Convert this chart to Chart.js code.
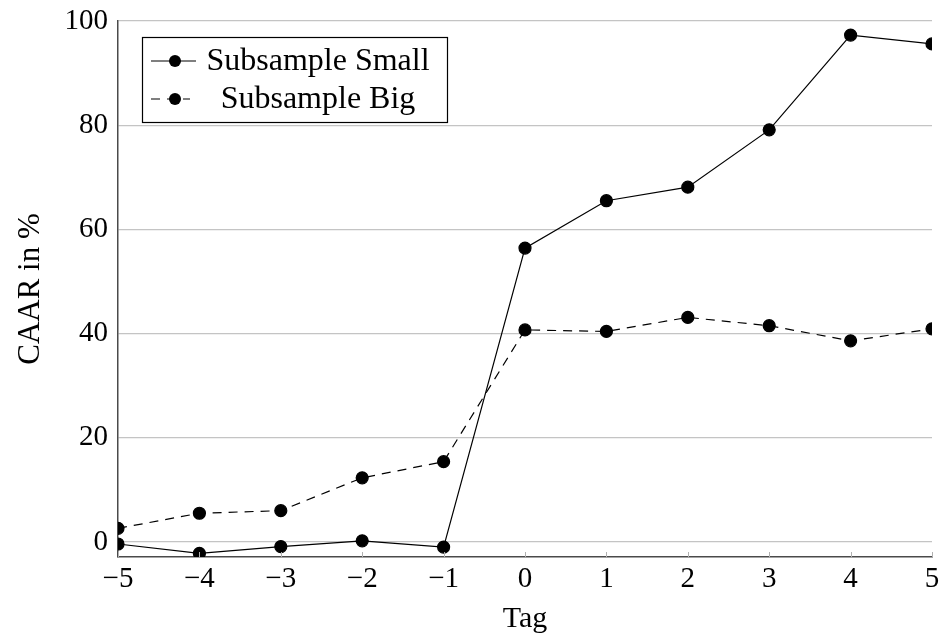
<!DOCTYPE html>
<html>
<head>
<meta charset="utf-8">
<script src="https://cdn.jsdelivr.net/npm/chart.js@4.4.1/dist/chart.umd.min.js"></script>
<style>
  html, body { margin: 0; padding: 0; background: #ffffff; }
  #wrap { width: 940px; height: 637px; }
</style>
</head>
<body>
<div id="wrap"><canvas id="line_chart" width="940" height="637"></canvas></div>
<script>
const days = [-5, -4, -3, -2, -1, 0, 1, 2, 3, 4, 5]
const smallValues = [-0.4, -2.2, -0.9, 0.2, -1.0, 56.4, 65.5, 68.1, 79.1, 97.3, 95.6]
const bigValues = [2.6, 5.5, 6.0, 12.3, 15.4, 40.7, 40.4, 43.1, 41.5, 38.6, 40.9]
const seriesNames = ["Subsample Small", "Subsample Big"]
const yTicks = [0, 20, 40, 60, 80, 100]

const FONT = "'Liberation Serif', 'DejaVu Serif', serif"
const minus = (v) => (v < 0 ? "\u2212" + Math.abs(v) : String(v))

// small inward tick marks on the x axis, like pgfplots
const xTickMarks = {
  id: "xTickMarks",
  afterDatasetsDraw(chart) {
    const { ctx, chartArea, scales } = chart
    ctx.save()
    ctx.strokeStyle = "#b0b0b0"
    ctx.lineWidth = 1
    days.forEach((d) => {
      const x = Math.round(scales.x.getPixelForValue(d)) + 0.5
      ctx.beginPath()
      ctx.moveTo(x, chartArea.bottom)
      ctx.lineTo(x, chartArea.bottom - 5)
      ctx.stroke()
    })
    ctx.restore()
  },
}

// boxed legend inside the plot, top left
const boxLegend = {
  id: "boxLegend",
  afterDraw(chart) {
    const { ctx, chartArea } = chart
    const left = chartArea.left + 24
    const top = chartArea.top + 16
    const width = 305
    const rowH = 38
    const height = 85
    ctx.save()
    ctx.fillStyle = "#ffffff"
    ctx.fillRect(left, top, width, height)
    ctx.strokeStyle = "#000000"
    ctx.lineWidth = 1.2
    ctx.strokeRect(left + 0.5, top + 0.5, width, height)
    ctx.font = "32px " + FONT
    ctx.textBaseline = "middle"
    ctx.textAlign = "center"
    chart.data.datasets.forEach((ds, i) => {
      const cy = top + 24 + i * rowH
      ctx.strokeStyle = "#000000"
      ctx.lineWidth = 1.2
      ctx.setLineDash(ds.borderDash || [])
      ctx.beginPath()
      ctx.moveTo(left + 9, cy)
      ctx.lineTo(left + (i === 0 ? 54 : 48), cy)
      ctx.stroke()
      ctx.setLineDash([])
      ctx.fillStyle = "#000000"
      ctx.beginPath()
      ctx.arc(left + 33, cy, 6, 0, Math.PI * 2)
      ctx.fill()
      ctx.fillText(ds.label, left + 176, cy + 1)
    })
    ctx.restore()
  },
}

new Chart(document.getElementById("line_chart"), {
  type: "line",
  plugins: [xTickMarks, boxLegend],
  data: {
    datasets: [
      {
        label: seriesNames[0],
        data: days.map((d, i) => ({ x: d, y: smallValues[i] })),
        borderColor: "#000000",
        backgroundColor: "#000000",
        borderWidth: 1.2,
        pointRadius: 6,
        pointHoverRadius: 6,
        tension: 0,
      },
      {
        label: seriesNames[1],
        data: days.map((d, i) => ({ x: d, y: bigValues[i] })),
        borderColor: "#000000",
        backgroundColor: "#000000",
        borderWidth: 1.2,
        borderDash: [9, 7],
        pointRadius: 6,
        pointHoverRadius: 6,
        tension: 0,
      },
    ],
  },
  options: {
    responsive: false,
    animation: false,
    devicePixelRatio: 1,
    layout: { padding: { top: 21, right: 8, left: 0, bottom: 0 } },
    plugins: {
      legend: { display: false },
      tooltip: { enabled: false },
    },
    scales: {
      x: {
        type: "linear",
        min: -5,
        max: 5,
        afterFit: (scale) => {
          scale.height = 80
          scale.paddingLeft = 0
          scale.paddingRight = 0
        },
        afterBuildTicks: (scale) => {
          scale.ticks = days.map((d) => ({ value: d }))
        },
        ticks: {
          color: "#000000",
          font: { family: FONT, size: 29 },
          padding: 5,
          maxRotation: 0,
          callback: (v) => minus(v),
        },
        grid: { display: false, drawTicks: false },
        border: { display: true, color: "#4a4a4a", width: 1.5 },
        title: {
          display: true,
          text: "Tag",
          color: "#000000",
          font: { family: FONT, size: 30 },
          padding: { top: 0, bottom: 0 },
        },
      },
      y: {
        min: -2.9,
        max: 100,
        afterFit: (scale) => {
          scale.width = 118
          scale.paddingTop = 0
          scale.paddingBottom = 0
        },
        afterBuildTicks: (scale) => {
          scale.ticks = yTicks.map((v) => ({ value: v }))
        },
        ticks: {
          color: "#000000",
          font: { family: FONT, size: 29 },
          padding: 10,
          callback: (v) => minus(v),
        },
        grid: { color: "#c4c4c4", lineWidth: 1.2, drawTicks: false },
        border: { display: true, color: "#4a4a4a", width: 1.5 },
        title: {
          display: true,
          text: "CAAR in %",
          color: "#000000",
          font: { family: FONT, size: 31 },
          padding: { top: 12, bottom: 0 },
        },
      },
    },
  },
})
</script>
</body>
</html>
